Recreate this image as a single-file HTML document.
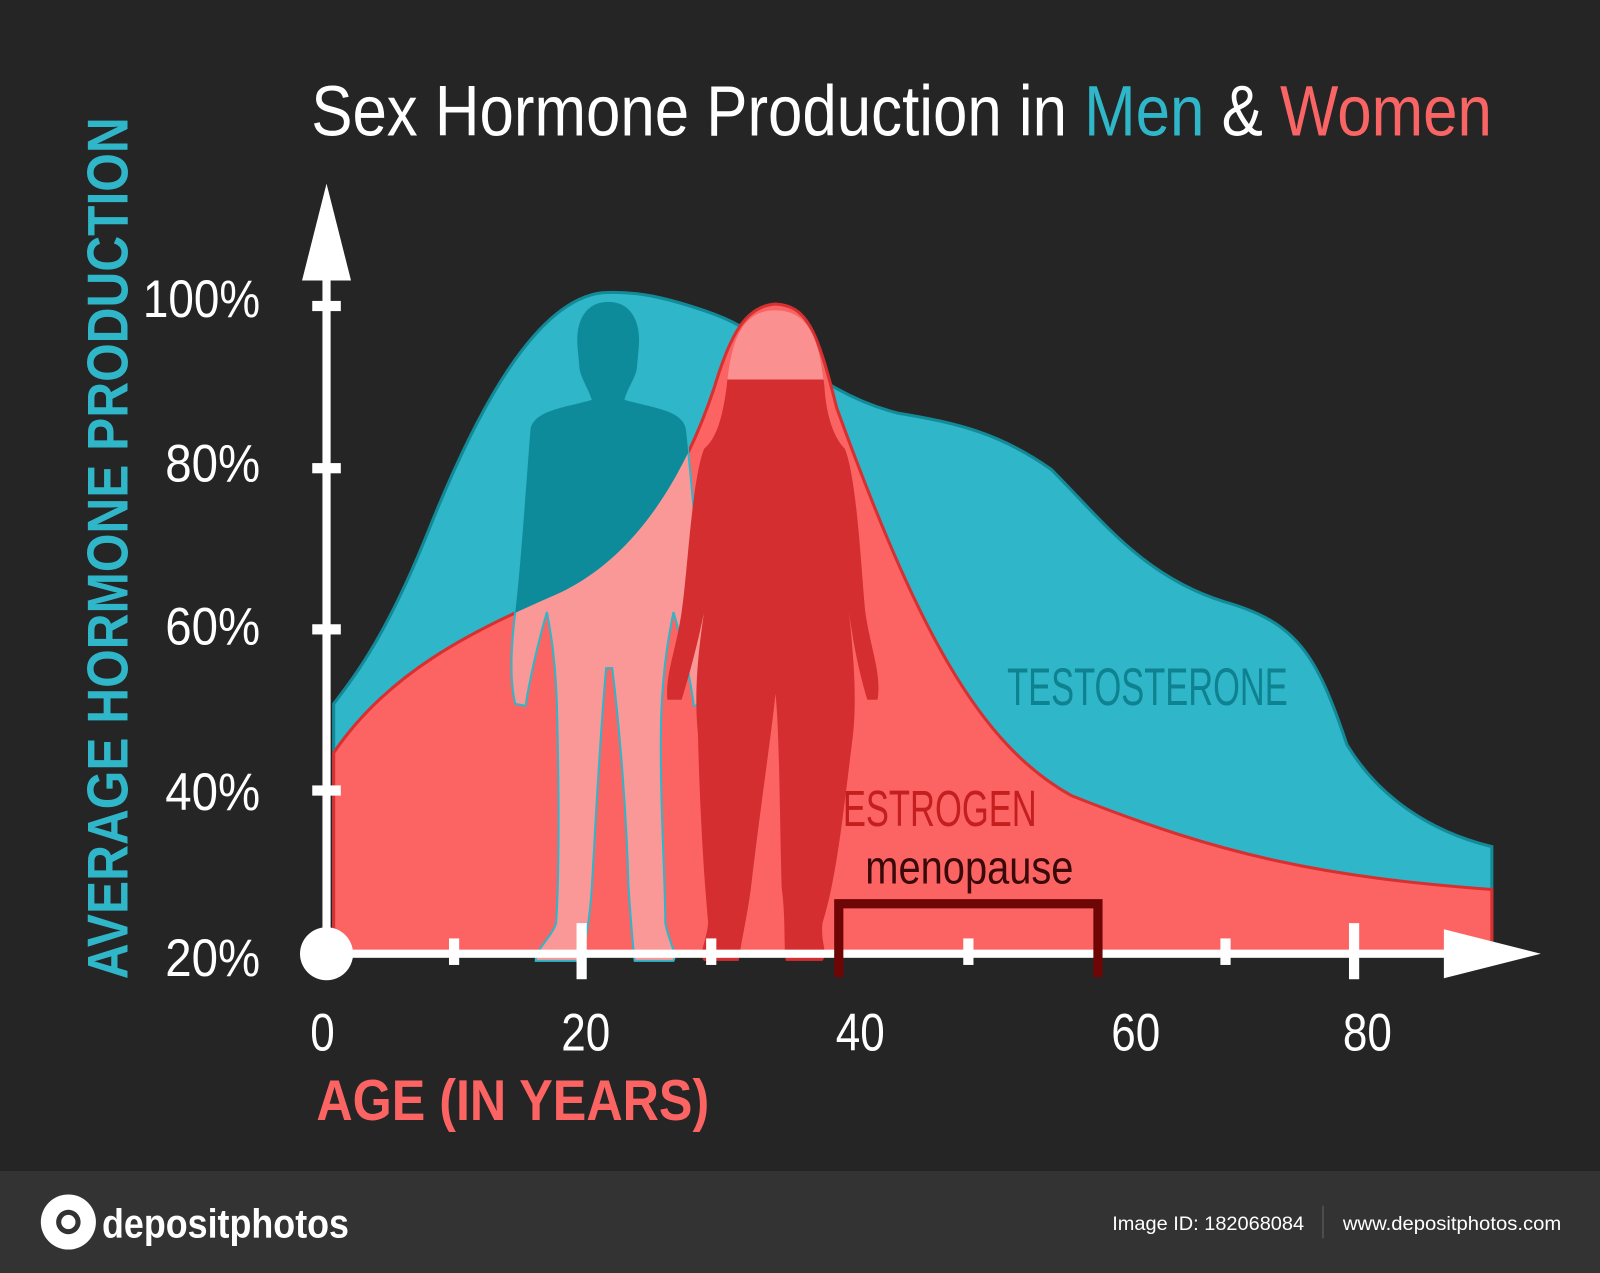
<!DOCTYPE html>
<html><head><meta charset="utf-8"><style>
html,body{margin:0;padding:0;background:#252525;}
svg{display:block}
text{font-family:"Liberation Sans",sans-serif;}
</style></head><body>
<svg width="1600" height="1273" viewBox="0 0 1568 1248" preserveAspectRatio="none" xmlns="http://www.w3.org/2000/svg">
<defs>
<clipPath id="aboveE"><path d="M0,0 H1568 V872 L1462,872 C1300,860 1200,840 1050,780 C960,730 900,620 820,400 C800,320 790,300 760,298 C730,300 715,330 700,380 C660,500 600,560 540,585 C460,620 380,660 327,738 L0,738 Z"/></clipPath>
<clipPath id="head"><rect x="0" y="0" width="1568" height="372"/></clipPath>
<path id="man" d="M596,296 C620,296 628,318 626,340 L624,362 C622,372 615,380 612,392 C640,400 668,402 672,420 C678,470 684,560 690,600 C694,640 692,670 688,690 L680,692 C676,660 666,620 660,600 C656,620 650,650 648,700 C646,780 652,860 652,905 C656,925 664,935 660,942 L622,942 C620,925 618,900 616,870 C614,800 608,720 600,655 L594,655 C588,720 584,800 580,870 C578,900 574,925 568,942 L525,942 C525,930 540,920 545,905 C548,860 548,780 546,700 C545,650 540,620 536,600 C530,620 520,660 515,692 L505,690 C500,670 500,640 505,600 C510,560 516,470 520,420 C525,402 552,400 580,392 C576,380 570,372 568,362 L566,340 C564,318 572,296 596,296 Z"/>
<path id="wom" d="M760,304 C796,304 804,340 808,380 C810,410 818,430 828,440 C840,470 844,560 848,600 C854,640 864,660 860,686 L850,686 C842,660 836,630 832,600 C836,640 840,680 836,720 C826,800 820,860 806,905 C804,925 812,935 806,942 L770,942 C768,925 770,900 766,870 C764,800 764,720 760,680 C756,720 744,800 736,870 C732,900 726,925 724,942 L690,942 C684,935 692,925 694,905 C690,860 686,800 684,720 C680,680 684,640 690,600 C684,630 676,660 668,686 L654,686 C652,660 662,640 668,600 C674,560 678,470 690,440 C702,430 708,410 712,380 C716,340 724,304 760,304 Z"/>
</defs>
<rect width="1568" height="1248" fill="#252525"/>
<rect y="1148" width="1568" height="100" fill="#333333"/>
<text x="305" y="133" font-size="70" fill="#fff" textLength="1157" lengthAdjust="spacingAndGlyphs"><tspan>Sex Hormone Production in </tspan><tspan fill="#2fb6c8">Men</tspan><tspan> &amp; </tspan><tspan fill="#f96464">Women</tspan></text>
<path d="M327,935 L327,690 C350,660 380,620 420,520 C460,420 520,295 590,287 C620,285 650,290 700,308 C760,330 800,385 880,405 C940,415 980,425 1030,460 C1080,510 1120,565 1200,590 C1270,610 1290,640 1320,730 C1350,780 1400,815 1462,830 L1462,935 Z" fill="#2fb6c8" stroke="#138a98" stroke-width="3"/>
<path d="M327,935 L327,738 C380,660 460,620 540,585 C600,560 660,500 700,380 C715,330 730,300 760,298 C790,300 800,320 820,400 C900,620 960,730 1050,780 C1200,840 1300,860 1462,872 L1462,935 Z" fill="#fc6464" stroke="#d83030" stroke-width="3"/>
<use href="#man" fill="#fa9898" stroke="#2fb6c8" stroke-width="2"/>
<g clip-path="url(#aboveE)"><use href="#man" fill="#0e8b9a"/></g>
<use href="#wom" fill="#d42e30"/>
<g clip-path="url(#head)"><use href="#wom" fill="#fa9090"/></g>
<rect x="316" y="260" width="8" height="678" fill="#fff"/>
<polygon points="320,180 296,275 344,275" fill="#fff"/>
<g fill="#fff"><rect x="306" y="295" width="28" height="10"/><rect x="306" y="454" width="28" height="10"/><rect x="306" y="612" width="28" height="10"/><rect x="306" y="770" width="28" height="10"/></g>
<rect x="320" y="931" width="1100" height="8" fill="#fff"/>
<polygon points="1510,935 1415,911 1415,959" fill="#fff"/>
<circle cx="320" cy="935" r="26" fill="#fff"/>
<g fill="#fff"><rect x="440" y="920" width="10" height="26"/><rect x="565" y="905" width="10" height="55"/><rect x="692" y="920" width="10" height="26"/><rect x="944" y="920" width="10" height="26"/><rect x="1196" y="920" width="10" height="26"/><rect x="1322" y="905" width="10" height="55"/></g>
<path d="M822,958 V886 H1076 V958" fill="none" stroke="#6e0606" stroke-width="9"/>
<g fill="#fff" font-size="52">
<text x="140" y="311" textLength="115" lengthAdjust="spacingAndGlyphs">100%</text>
<text x="162" y="472" textLength="93" lengthAdjust="spacingAndGlyphs">80%</text>
<text x="162" y="632" textLength="93" lengthAdjust="spacingAndGlyphs">60%</text>
<text x="162" y="794" textLength="93" lengthAdjust="spacingAndGlyphs">40%</text>
<text x="162" y="957" textLength="93" lengthAdjust="spacingAndGlyphs">20%</text>
</g>
<g fill="#fff" font-size="52">
<text x="304" y="1030" textLength="24" lengthAdjust="spacingAndGlyphs">0</text>
<text x="550" y="1030" textLength="48" lengthAdjust="spacingAndGlyphs">20</text>
<text x="819" y="1030" textLength="48" lengthAdjust="spacingAndGlyphs">40</text>
<text x="1089" y="1030" textLength="48" lengthAdjust="spacingAndGlyphs">60</text>
<text x="1316" y="1030" textLength="48" lengthAdjust="spacingAndGlyphs">80</text>
</g>
<text x="310" y="1098" font-size="56" font-weight="bold" fill="#fc6464" textLength="385" lengthAdjust="spacingAndGlyphs">AGE (IN YEARS)</text>
<text transform="translate(125,960) rotate(-90)" font-size="56" font-weight="bold" fill="#2fb6c8" textLength="845" lengthAdjust="spacingAndGlyphs">AVERAGE HORMONE PRODUCTION</text>
<text x="987" y="691" font-size="52" fill="#0e8290" textLength="275" lengthAdjust="spacingAndGlyphs">TESTOSTERONE</text>
<text x="826" y="810" font-size="50" fill="#c41e1e" textLength="190" lengthAdjust="spacingAndGlyphs">ESTROGEN</text>
<text x="848" y="866" font-size="46" fill="#3a0a0a" textLength="204" lengthAdjust="spacingAndGlyphs">menopause</text>
<circle cx="67" cy="1198" r="27" fill="#fff"/><circle cx="67" cy="1198" r="12" fill="#333"/><circle cx="67" cy="1198" r="7" fill="#fff"/>
<text x="100" y="1213" font-size="40" font-weight="bold" fill="#fff" textLength="242" lengthAdjust="spacingAndGlyphs">depositphotos</text>
<text x="1090" y="1206" font-size="19" fill="#fff" textLength="188" lengthAdjust="spacingAndGlyphs">Image ID: 182068084</text>
<rect x="1296" y="1182" width="1" height="32" fill="#666"/>
<text x="1316" y="1206" font-size="19" fill="#fff" textLength="214" lengthAdjust="spacingAndGlyphs">www.depositphotos.com</text>
</svg>
</body></html>
